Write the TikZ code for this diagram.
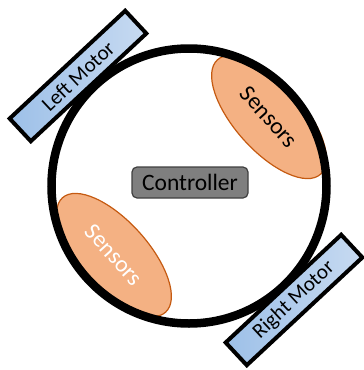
\documentclass[tikz,border=0pt]{standalone}
\usepackage{fontspec}
\setmainfont{Carlito}
\usetikzlibrary{shapes.geometric}
\definecolor{sensfill}{HTML}{F4B183}
\definecolor{sensline}{HTML}{C55A11}
\definecolor{motA}{HTML}{9DC0E8}
\definecolor{motB}{HTML}{C7DAF1}
\definecolor{ctrlfill}{HTML}{7F7F7F}
\definecolor{ctrlline}{HTML}{404040}
\tikzset{
  sensorbox/.style={ellipse, draw=sensline, line width=1.2pt, fill=sensfill,
    minimum width=154pt, minimum height=68pt, inner sep=0pt,
    font=\fontsize{23.5}{26}\selectfont, rotate=-48},
  motorbox/.style={rectangle, draw=black, line width=4pt,
    left color=motA, right color=motB,
    minimum width=158pt, minimum height=31pt, inner sep=0pt,
    font=\fontsize{21}{23}\selectfont, rotate=43},
  ctrlbox/.style={rectangle, rounded corners=5pt, draw=ctrlline, line width=1.2pt,
    fill=ctrlfill, minimum width=116pt, minimum height=31pt, inner sep=0pt,
    font=\fontsize{23.5}{26}\selectfont},
}
\begin{document}
\begin{tikzpicture}[x=1pt,y=-1pt]
  \useasboundingbox (0,0) rectangle (364,370);
  % robot body with its two sensor pods
  \node[sensorbox] (sensTR) at (269,117) {Sensors};
  \node[sensorbox, text=white] (sensBL) at (114,255) {Sensors};
  \draw[line width=8.5pt] (189,186) circle (137.5);
  \coordinate (body) at (189,186);
  % drive motors
  \node[motorbox] (leftM) at (78,76) {Left Motor};
  \node[motorbox] (rightM) at (294,300) {Right Motor};
  % central controller
  \node[ctrlbox] (ctrl) at (190,182.5) {Controller};
\end{tikzpicture}
\end{document}
